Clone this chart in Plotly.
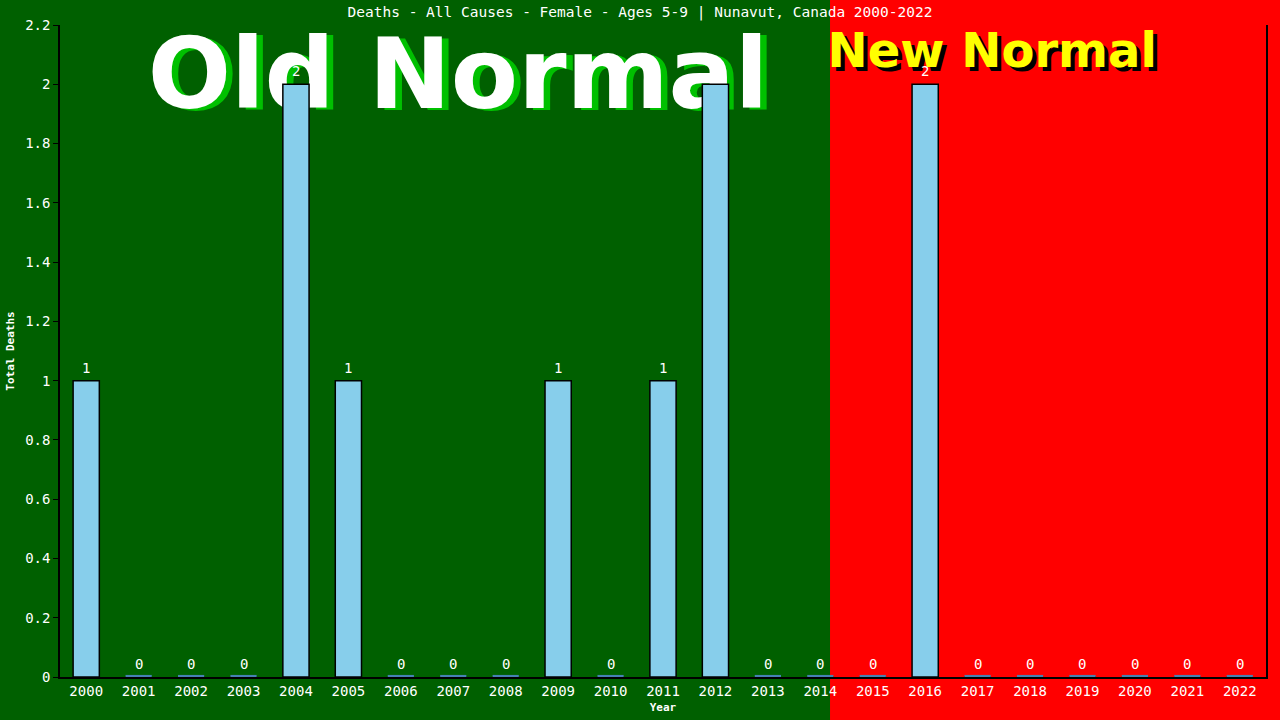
import plotly.graph_objects as go

years = [str(y) for y in range(2000, 2023)]
deaths = [1, 0, 0, 0, 2, 1, 0, 0, 0, 1, 0, 1, 2, 0, 0, 0, 2, 0, 0, 0, 0, 0, 0]
labels = [str(v) for v in deaths]
zero_marks = [0.007 if v == 0 else 0 for v in deaths]

mono = "DejaVu Sans Mono"
sans = "DejaVu Sans"

fig = go.Figure()

# big "Old Normal" / "New Normal" texts sit on a hidden base subplot,
# so the bars (on the overlaying subplot) are drawn above them
def big_text(txt, x, y, size, color):
    fig.add_trace(go.Scatter(x=[x], y=[y], mode="text", text=[f"<b>{txt}</b>"],
                             textposition="middle center", cliponaxis=False,
                             textfont=dict(family=sans, size=size, color=color),
                             hoverinfo="skip", xaxis="x", yaxis="y"))

big_text("Old Normal", 0.3355, 0.907, 98, "#00C000")
big_text("Old Normal", 0.3300, 0.911, 98, "white")
big_text("New Normal", 0.7763, 0.948, 48, "black")
big_text("New Normal", 0.7730, 0.954, 48, "#FFFF00")

fig.add_trace(go.Bar(x=years, y=deaths, width=0.5,
                     marker=dict(color="#87CEEB", line=dict(color="black", width=1.5)),
                     hoverinfo="x+y", xaxis="x2", yaxis="y2"))
fig.add_trace(go.Bar(x=years, y=zero_marks, width=0.5,
                     marker=dict(color="#4682B4", line=dict(width=0)),
                     hoverinfo="skip", xaxis="x2", yaxis="y2"))

# value labels above each bar
for i, (v, lab) in enumerate(zip(deaths, labels)):
    fig.add_annotation(x=i, y=v, xref="x2", yref="y2", text=lab, showarrow=False,
                       xanchor="center", yanchor="bottom", yshift=3,
                       font=dict(family=mono, size=14, color="white"))

# red "new normal" background
fig.add_shape(type="rect", xref="paper", yref="paper",
              x0=0.6385, x1=1.5, y0=-1, y1=2,
              fillcolor="#FF0000", line=dict(width=0), layer="below")

fig.update_layout(
    width=1280, height=720,
    margin=dict(l=60, r=14, t=25, b=43),
    paper_bgcolor="#006000",
    plot_bgcolor="rgba(0,0,0,0)",
    barmode="overlay",
    showlegend=False,
    title=dict(text="Deaths - All Causes - Female - Ages 5-9 | Nunavut, Canada 2000-2022",
               x=0.5, xanchor="center", y=0.983, yanchor="middle",
               font=dict(family=mono, size=14.5, color="white")),
    font=dict(family=mono, color="white"),
    xaxis=dict(range=[0, 1], visible=False, fixedrange=True, automargin=False),
    yaxis=dict(range=[0, 1], visible=False, fixedrange=True, automargin=False),
    xaxis2=dict(overlaying="x", type="category", range=[-0.5, 22.5], showline=True,
                linecolor="black", linewidth=1.5, ticks="", showgrid=False,
                automargin=False,
                tickfont=dict(family=mono, size=14, color="white"),
                title=dict(text="<b>Year</b>", standoff=6,
                           font=dict(family=mono, size=11, color="white"))),
    yaxis2=dict(overlaying="y", range=[0, 2.2], dtick=0.2, showline=True, mirror=True,
                linecolor="black", linewidth=1.5, ticks="outside", ticklen=5,
                tickcolor="black", showgrid=False, zeroline=False, automargin=False,
                tickfont=dict(family=mono, size=14, color="white"),
                title=dict(text="<b>Total Deaths</b>", standoff=8,
                           font=dict(family=mono, size=11, color="white"))),
)

fig.write_html("out.html", config={"displayModeBar": False},
               post_script="document.body.style.margin='0';document.body.style.overflow='hidden';")
